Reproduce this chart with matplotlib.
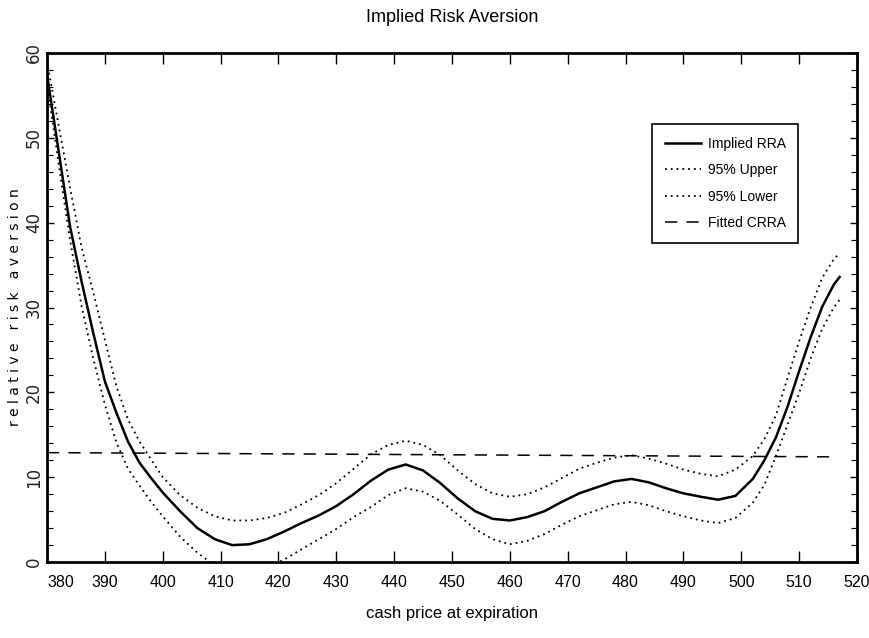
import numpy as np
import matplotlib
matplotlib.use('Agg')
import matplotlib.pyplot as plt
from matplotlib.ticker import MultipleLocator

plt.rcParams['font.family'] = ['Liberation Sans', 'DejaVu Sans']
plt.rcParams['xtick.direction'] = 'in'
plt.rcParams['ytick.direction'] = 'in'

# data
price = [380, 382, 384, 386, 388, 390, 392, 394, 396, 398, 400, 403, 406, 409,
         412, 415, 418, 421, 424, 427, 430, 433, 436, 439, 442, 445, 448, 451,
         454, 457, 460, 463, 466, 469, 472, 475, 478, 481, 484, 487, 490, 493,
         496, 499, 502, 504, 506, 508, 510, 512, 514, 516, 517]
rra = [57.5, 48.5, 39.5, 33.0, 27.0, 21.3, 17.6, 14.2, 11.7, 9.9, 8.2, 6.0, 4.0, 2.7,
       2.0, 2.1, 2.7, 3.6, 4.6, 5.5, 6.6, 8.0, 9.6, 10.9, 11.5, 10.8, 9.3, 7.5,
       6.0, 5.1, 4.9, 5.3, 6.0, 7.1, 8.1, 8.8, 9.5, 9.8, 9.4, 8.7, 8.1, 7.7,
       7.35, 7.8, 9.8, 12.0, 14.7, 18.3, 22.5, 26.5, 30.1, 32.7, 33.6]
upper = [59.0, 51.5, 44.1, 37.0, 31.8, 26.2, 20.7, 16.8, 14.2, 12.1, 10.0, 7.9, 6.4, 5.4,
         4.9, 4.9, 5.2, 5.8, 6.8, 7.9, 9.3, 11.0, 12.7, 13.8, 14.3, 13.8, 12.6, 10.8,
         9.2, 8.1, 7.7, 8.0, 8.8, 9.9, 11.0, 11.7, 12.3, 12.6, 12.2, 11.6, 10.9, 10.4,
         10.1, 10.9, 12.5, 14.5, 17.3, 21.7, 26.0, 30.0, 33.5, 35.7, 36.4]
lower = [56.5, 47.0, 37.9, 30.1, 24.0, 18.6, 14.1, 11.0, 9.0, 7.1, 5.4, 3.0, 1.1, -0.4,
         -1.1, -1.2, -0.7, 0.3, 1.5, 2.7, 3.9, 5.3, 6.5, 7.9, 8.7, 8.3, 7.2, 5.6,
         3.9, 2.7, 2.1, 2.5, 3.3, 4.4, 5.4, 6.1, 6.8, 7.1, 6.7, 6.0, 5.4, 4.9,
         4.6, 5.2, 7.0, 9.1, 12.5, 16.2, 19.9, 24.0, 27.5, 30.0, 30.9]
crra_x = [380, 516]
crra_y = [12.9, 12.4]

xticks = [380, 390, 400, 410, 420, 430, 440, 450, 460, 470, 480, 490, 500, 510, 520]
yticks = [0, 10, 20, 30, 40, 50, 60]

fig = plt.figure(figsize=(8.7, 6.38), dpi=100)
ax = fig.add_axes([0.054, 0.119, 0.931, 0.798])

ax.plot(price, rra, color='black', lw=1.8, label='Implied RRA')
ax.plot(price, upper, color='black', lw=1.3, linestyle=(0, (1, 2.2)), label='95% Upper')
ax.plot(price, lower, color='black', lw=1.3, linestyle=(0, (1, 2.2)), label='95% Lower')
ax.plot(crra_x, crra_y, color='black', lw=1.1, linestyle=(0, (8, 6)), label='Fitted CRRA')

ax.set_xlim(380, 520)
ax.set_ylim(0, 60)

ax.set_xticks(xticks)
ax.set_xticklabels([str(t) for t in xticks], fontsize=11.5)
ax.get_xticklabels()[0].set_horizontalalignment('left')
ax.set_yticks(yticks)
ax.set_yticklabels([str(t) for t in yticks], fontsize=12, rotation=90, va='center',
                   family='DejaVu Sans', color='#222222')
ax.yaxis.set_minor_locator(MultipleLocator(2))
ax.tick_params(axis='x', which='major', length=8, width=1, top=True, pad=9)
ax.tick_params(axis='y', which='major', length=5, width=1, right=True, pad=3)
ax.tick_params(axis='y', which='minor', length=4, width=0.8, right=True)

for s in ax.spines.values():
    s.set_linewidth(2)

ax.set_title('Implied Risk Aversion', fontsize=13, pad=22)
ax.set_xlabel('cash price at expiration', fontsize=12, labelpad=12)
ax.set_ylabel('r e l a t i v e   r i s k   a v e r s i o n', fontsize=10,
              family='DejaVu Sans', labelpad=2)

leg = ax.legend(loc='upper right', bbox_to_anchor=(0.936, 0.874), fontsize=10,
                fancybox=False, edgecolor='black', framealpha=1, handlelength=2.6,
                labelspacing=0.9, borderpad=0.9, handletextpad=0.5)
leg.get_frame().set_linewidth(1.2)

plt.savefig('out.png', dpi=100)
